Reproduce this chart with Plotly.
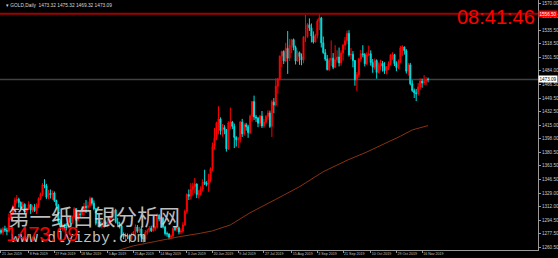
import datetime as dt
import plotly.graph_objects as go

# ---------------- data ----------------
dates = [
    "2019-01-21", "2019-01-22", "2019-01-23", "2019-01-24", "2019-01-25",
    "2019-01-28", "2019-01-29", "2019-01-30", "2019-01-31", "2019-02-01",
    "2019-02-04", "2019-02-05", "2019-02-06", "2019-02-07", "2019-02-08",
    "2019-02-11", "2019-02-12", "2019-02-13", "2019-02-14", "2019-02-15",
    "2019-02-18", "2019-02-19", "2019-02-20", "2019-02-21", "2019-02-22",
    "2019-02-25", "2019-02-26", "2019-02-27", "2019-02-28", "2019-03-01",
    "2019-03-04", "2019-03-05", "2019-03-06", "2019-03-07", "2019-03-08",
    "2019-03-11", "2019-03-12", "2019-03-13", "2019-03-14", "2019-03-15",
    "2019-03-18", "2019-03-19", "2019-03-20", "2019-03-21", "2019-03-22",
    "2019-03-25", "2019-03-26", "2019-03-27", "2019-03-28", "2019-03-29",
    "2019-04-01", "2019-04-02", "2019-04-03", "2019-04-04", "2019-04-05",
    "2019-04-08", "2019-04-09", "2019-04-10", "2019-04-11", "2019-04-12",
    "2019-04-15", "2019-04-16", "2019-04-17", "2019-04-18", "2019-04-22",
    "2019-04-23", "2019-04-24", "2019-04-25", "2019-04-26", "2019-04-29",
    "2019-04-30", "2019-05-01", "2019-05-02", "2019-05-03", "2019-05-06",
    "2019-05-07", "2019-05-08", "2019-05-09", "2019-05-10", "2019-05-13",
    "2019-05-14", "2019-05-15", "2019-05-16", "2019-05-17", "2019-05-20",
    "2019-05-21", "2019-05-22", "2019-05-23", "2019-05-24", "2019-05-27",
    "2019-05-28", "2019-05-29", "2019-05-30", "2019-05-31", "2019-06-03",
    "2019-06-04", "2019-06-05", "2019-06-06", "2019-06-07", "2019-06-10",
    "2019-06-11", "2019-06-12", "2019-06-13", "2019-06-14", "2019-06-17",
    "2019-06-18", "2019-06-19", "2019-06-20", "2019-06-21", "2019-06-24",
    "2019-06-25", "2019-06-26", "2019-06-27", "2019-06-28", "2019-07-01",
    "2019-07-02", "2019-07-03", "2019-07-04", "2019-07-05", "2019-07-08",
    "2019-07-09", "2019-07-10", "2019-07-11", "2019-07-12", "2019-07-15",
    "2019-07-16", "2019-07-17", "2019-07-18", "2019-07-19", "2019-07-22",
    "2019-07-23", "2019-07-24", "2019-07-25", "2019-07-26", "2019-07-29",
    "2019-07-30", "2019-07-31", "2019-08-01", "2019-08-02", "2019-08-05",
    "2019-08-06", "2019-08-07", "2019-08-08", "2019-08-09", "2019-08-12",
    "2019-08-13", "2019-08-14", "2019-08-15", "2019-08-16", "2019-08-19",
    "2019-08-20", "2019-08-21", "2019-08-22", "2019-08-23", "2019-08-26",
    "2019-08-27", "2019-08-28", "2019-08-29", "2019-08-30", "2019-09-02",
    "2019-09-03", "2019-09-04", "2019-09-05", "2019-09-06", "2019-09-09",
    "2019-09-10", "2019-09-11", "2019-09-12", "2019-09-13", "2019-09-16",
    "2019-09-17", "2019-09-18", "2019-09-19", "2019-09-20", "2019-09-23",
    "2019-09-24", "2019-09-25", "2019-09-26", "2019-09-27", "2019-09-30",
    "2019-10-01", "2019-10-02", "2019-10-03", "2019-10-04", "2019-10-07",
    "2019-10-08", "2019-10-09", "2019-10-10", "2019-10-11", "2019-10-14",
    "2019-10-15", "2019-10-16", "2019-10-17", "2019-10-18", "2019-10-21",
    "2019-10-22", "2019-10-23", "2019-10-24", "2019-10-25", "2019-10-28",
    "2019-10-29", "2019-10-30", "2019-10-31", "2019-11-01", "2019-11-04",
    "2019-11-05", "2019-11-06", "2019-11-07", "2019-11-08", "2019-11-11",
    "2019-11-12", "2019-11-13", "2019-11-14", "2019-11-15", "2019-11-18",
    "2019-11-19", "2019-11-20",
]

opens = [
    1281.5, 1279.0, 1283.5, 1282.0, 1280.5, 1297.5, 1302.5, 1311.5, 1319.5, 1321.0,
    1317.0, 1311.0, 1314.5, 1306.5, 1309.5, 1314.5, 1307.5, 1311.0, 1306.5, 1313.5,
    1322.0, 1327.5, 1339.0, 1338.0, 1323.5, 1328.5, 1327.0, 1329.0, 1319.5, 1313.0,
    1293.0, 1286.5, 1287.0, 1286.0, 1285.0, 1298.0, 1291.5, 1298.5, 1309.0, 1295.0,
    1302.5, 1301.5, 1306.5, 1312.0, 1310.5, 1313.0, 1322.0, 1316.0, 1309.0, 1290.5,
    1292.0, 1286.5, 1291.0, 1291.5, 1290.0, 1291.5, 1298.5, 1303.5, 1307.5, 1292.5,
    1290.0, 1287.5, 1275.5, 1273.5, 1275.5, 1274.5, 1271.0, 1276.0, 1279.5, 1286.0,
    1280.5, 1283.5, 1273.5, 1270.5, 1279.0, 1281.0, 1284.5, 1281.0, 1283.5, 1285.5,
    1301.0, 1296.0, 1297.5, 1286.0, 1277.5, 1277.0, 1273.0, 1274.5, 1284.0, 1283.0,
    1285.0, 1279.5, 1280.5, 1288.5, 1305.5, 1327.0, 1325.0, 1333.5, 1337.0, 1340.5,
    1327.0, 1327.5, 1334.0, 1342.5, 1341.5, 1340.0, 1346.0, 1360.0, 1388.0, 1399.0,
    1418.0, 1423.0, 1408.0, 1412.0, 1409.5, 1385.0, 1418.0, 1419.0, 1413.5, 1399.5,
    1396.5, 1397.5, 1419.0, 1404.0, 1415.5, 1413.0, 1405.5, 1426.5, 1445.0, 1425.5,
    1424.0, 1417.5, 1426.5, 1414.0, 1419.0, 1426.0, 1430.5, 1413.5, 1444.5, 1440.5,
    1464.5, 1474.0, 1502.5, 1508.5, 1496.5, 1512.5, 1500.0, 1516.5, 1523.5, 1513.5,
    1496.5, 1507.0, 1502.0, 1497.5, 1527.0, 1527.5, 1542.5, 1538.5, 1528.0, 1520.5,
    1529.0, 1547.0, 1551.0, 1519.5, 1507.0, 1499.0, 1485.5, 1497.0, 1500.0, 1488.5,
    1498.0, 1501.5, 1494.0, 1506.5, 1516.5, 1522.0, 1531.5, 1504.0, 1505.0, 1497.0,
    1472.5, 1479.0, 1499.0, 1505.5, 1504.5, 1493.0, 1504.5, 1505.5, 1494.5, 1488.5,
    1497.0, 1482.0, 1490.5, 1493.5, 1489.5, 1484.0, 1487.5, 1493.0, 1504.0, 1504.5,
    1493.0, 1488.0, 1495.5, 1513.0, 1514.0, 1509.5, 1483.5, 1491.5, 1467.5, 1459.0,
    1456.0, 1455.0, 1463.5, 1471.0, 1468.5, 1471.5, 1473.32,
]

highs = [
    1284.0, 1286.0, 1287.5, 1285.0, 1303.0, 1305.0, 1314.0, 1323.0, 1326.5, 1323.0,
    1318.5, 1318.0, 1316.0, 1310.5, 1318.5, 1315.0, 1313.5, 1315.0, 1316.0, 1323.5,
    1329.5, 1341.5, 1346.5, 1340.5, 1333.0, 1333.5, 1332.0, 1331.0, 1320.5, 1315.0,
    1295.5, 1289.5, 1290.0, 1291.0, 1300.0, 1299.0, 1300.5, 1311.0, 1310.0, 1305.0,
    1306.0, 1309.0, 1316.5, 1320.0, 1318.0, 1324.5, 1323.5, 1319.5, 1310.0, 1297.0,
    1295.0, 1294.0, 1295.5, 1294.0, 1296.0, 1300.0, 1307.0, 1310.5, 1309.0, 1297.5,
    1292.5, 1288.5, 1279.0, 1278.5, 1277.5, 1276.5, 1278.5, 1281.0, 1289.0, 1288.5,
    1286.0, 1287.0, 1276.5, 1282.0, 1283.5, 1287.0, 1287.5, 1288.0, 1287.0, 1303.0,
    1302.0, 1299.5, 1298.0, 1287.5, 1280.0, 1278.0, 1276.5, 1286.0, 1287.0, 1286.5,
    1286.5, 1284.0, 1292.0, 1308.0, 1328.5, 1333.5, 1341.5, 1342.0, 1348.0, 1341.0,
    1333.0, 1337.5, 1346.5, 1358.5, 1344.0, 1353.5, 1361.5, 1393.0, 1411.5, 1419.5,
    1439.0, 1425.0, 1416.5, 1415.0, 1410.0, 1420.0, 1437.5, 1420.5, 1417.0, 1401.0,
    1400.0, 1420.5, 1423.0, 1417.5, 1418.0, 1415.5, 1428.5, 1445.5, 1452.5, 1428.0,
    1425.5, 1428.0, 1433.0, 1423.0, 1428.0, 1434.0, 1433.5, 1447.0, 1449.5, 1474.5,
    1475.0, 1503.5, 1509.5, 1510.0, 1519.5, 1534.5, 1524.5, 1524.5, 1525.0, 1516.0,
    1509.5, 1508.5, 1506.0, 1528.0, 1555.0, 1544.5, 1550.5, 1544.0, 1534.0, 1531.0,
    1549.5, 1557.0, 1552.5, 1527.5, 1511.5, 1504.0, 1500.0, 1522.5, 1506.5, 1516.5,
    1510.0, 1513.5, 1510.0, 1518.0, 1527.0, 1535.0, 1535.5, 1513.0, 1509.0, 1497.5,
    1482.5, 1500.5, 1510.5, 1516.5, 1506.5, 1507.5, 1516.0, 1510.0, 1499.0, 1499.5,
    1498.5, 1494.5, 1498.0, 1496.5, 1495.0, 1490.0, 1496.0, 1505.0, 1507.5, 1505.5,
    1496.0, 1498.5, 1515.5, 1516.5, 1515.0, 1511.5, 1494.0, 1494.0, 1472.0, 1461.5,
    1461.0, 1468.5, 1474.5, 1474.0, 1478.5, 1476.0, 1475.32,
]

lows = [
    1276.5, 1276.0, 1279.5, 1275.5, 1279.0, 1294.5, 1301.0, 1306.5, 1316.0, 1310.5,
    1308.5, 1309.5, 1302.5, 1303.0, 1308.0, 1302.5, 1304.5, 1305.0, 1302.5, 1310.0,
    1320.0, 1325.0, 1335.0, 1321.5, 1321.0, 1322.0, 1320.5, 1317.5, 1311.0, 1290.0,
    1280.5, 1281.0, 1282.5, 1281.5, 1284.0, 1288.5, 1289.5, 1296.5, 1293.0, 1293.5,
    1298.5, 1299.0, 1300.5, 1303.5, 1307.0, 1311.0, 1313.0, 1307.0, 1288.0, 1288.0,
    1285.0, 1284.0, 1286.5, 1286.5, 1285.5, 1289.0, 1296.0, 1300.0, 1290.5, 1287.5,
    1284.0, 1272.5, 1270.5, 1269.0, 1270.5, 1266.0, 1269.5, 1274.5, 1275.5, 1278.5,
    1278.5, 1271.5, 1266.5, 1267.0, 1276.0, 1279.0, 1279.5, 1280.0, 1281.0, 1284.0,
    1293.0, 1290.0, 1284.0, 1275.0, 1273.5, 1270.0, 1270.0, 1271.5, 1280.5, 1280.0,
    1276.5, 1276.5, 1278.5, 1287.5, 1302.5, 1320.0, 1320.5, 1326.0, 1329.0, 1322.5,
    1322.0, 1325.5, 1331.0, 1339.0, 1337.5, 1330.5, 1342.5, 1357.0, 1384.5, 1396.0,
    1403.5, 1403.0, 1400.5, 1403.5, 1381.5, 1383.5, 1410.5, 1410.0, 1386.0, 1388.0,
    1386.0, 1393.0, 1400.0, 1401.5, 1408.0, 1399.0, 1403.5, 1420.0, 1421.5, 1419.0,
    1412.5, 1413.5, 1411.5, 1411.5, 1417.0, 1422.0, 1411.5, 1400.0, 1430.0, 1438.5,
    1455.0, 1471.5, 1488.5, 1492.5, 1495.0, 1480.0, 1496.5, 1506.5, 1510.0, 1492.0,
    1495.5, 1491.5, 1491.0, 1493.5, 1520.5, 1526.0, 1534.5, 1520.0, 1518.5, 1520.0,
    1525.0, 1535.5, 1513.5, 1505.5, 1496.5, 1484.5, 1483.5, 1490.0, 1486.0, 1487.5,
    1494.5, 1489.5, 1490.5, 1497.0, 1510.5, 1517.5, 1502.0, 1498.5, 1488.5, 1465.0,
    1458.5, 1475.0, 1495.0, 1501.0, 1489.5, 1491.5, 1502.5, 1490.5, 1481.5, 1485.5,
    1474.0, 1480.5, 1484.5, 1483.0, 1480.0, 1479.5, 1485.0, 1491.0, 1498.0, 1490.0,
    1483.5, 1486.0, 1494.0, 1503.0, 1504.5, 1480.5, 1478.0, 1465.5, 1457.0, 1449.5,
    1445.5, 1452.5, 1460.0, 1462.5, 1465.5, 1466.0, 1469.32,
]

closes = [
    1279.0, 1283.5, 1282.0, 1280.5, 1297.5, 1302.5, 1311.5, 1319.5, 1321.0, 1317.0,
    1311.0, 1314.5, 1306.5, 1309.5, 1314.5, 1307.5, 1311.0, 1306.5, 1313.5, 1322.0,
    1327.5, 1339.0, 1338.0, 1323.5, 1328.5, 1327.0, 1329.0, 1319.5, 1313.0, 1293.0,
    1286.5, 1287.0, 1286.0, 1285.0, 1298.0, 1291.5, 1298.5, 1309.0, 1295.0, 1302.5,
    1301.5, 1306.5, 1312.0, 1310.5, 1313.0, 1322.0, 1316.0, 1309.0, 1290.5, 1292.0,
    1286.5, 1291.0, 1291.5, 1290.0, 1291.5, 1298.5, 1303.5, 1307.5, 1292.5, 1290.0,
    1287.5, 1275.5, 1273.5, 1275.5, 1274.5, 1271.0, 1276.0, 1279.5, 1286.0, 1280.5,
    1283.5, 1273.5, 1270.5, 1279.0, 1281.0, 1284.5, 1281.0, 1283.5, 1285.5, 1301.0,
    1296.0, 1297.5, 1286.0, 1277.5, 1277.0, 1273.0, 1274.5, 1284.0, 1283.0, 1285.0,
    1279.5, 1280.5, 1288.5, 1305.5, 1327.0, 1325.0, 1333.5, 1337.0, 1340.5, 1327.0,
    1327.5, 1334.0, 1342.5, 1341.5, 1340.0, 1346.0, 1360.0, 1388.0, 1399.0, 1418.0,
    1423.0, 1408.0, 1412.0, 1409.5, 1385.0, 1418.0, 1419.0, 1413.5, 1399.5, 1396.5,
    1397.5, 1419.0, 1404.0, 1415.5, 1413.0, 1405.5, 1426.5, 1445.0, 1425.5, 1424.0,
    1417.5, 1426.5, 1414.0, 1419.0, 1426.0, 1430.5, 1413.5, 1444.5, 1440.5, 1464.5,
    1474.0, 1502.5, 1508.5, 1496.5, 1512.5, 1500.0, 1516.5, 1523.5, 1513.5, 1496.5,
    1507.0, 1502.0, 1497.5, 1527.0, 1527.5, 1542.5, 1538.5, 1528.0, 1520.5, 1529.0,
    1547.0, 1551.0, 1519.5, 1507.0, 1499.0, 1485.5, 1497.0, 1500.0, 1488.5, 1498.0,
    1501.5, 1494.0, 1506.5, 1516.5, 1522.0, 1531.5, 1504.0, 1505.0, 1497.0, 1472.5,
    1479.0, 1499.0, 1505.5, 1504.5, 1493.0, 1504.5, 1505.5, 1494.5, 1488.5, 1497.0,
    1482.0, 1490.5, 1493.5, 1489.5, 1484.0, 1487.5, 1493.0, 1504.0, 1504.5, 1493.0,
    1488.0, 1495.5, 1513.0, 1514.0, 1509.5, 1483.5, 1491.5, 1467.5, 1459.0, 1456.0,
    1455.0, 1463.5, 1471.0, 1468.5, 1471.5, 1472.0, 1473.09,
]

# moving average line
ma_dates = ["2019-04-12", "2019-04-25", "2019-05-10", "2019-05-28", "2019-06-12",
            "2019-06-20", "2019-07-03", "2019-07-17", "2019-08-05", "2019-08-21",
            "2019-09-06", "2019-09-24", "2019-10-08", "2019-10-18", "2019-10-31",
            "2019-11-08", "2019-11-20"]
ma_values = [1256.0, 1262.0, 1267.5, 1273.5, 1278.0,
             1281.0, 1288.5, 1304.0, 1321.0, 1337.0,
             1356.0, 1370.5, 1381.0, 1390.0, 1401.0,
             1409.0, 1414.5]

x_tick_labels = ["21 Jan 2019", "8 Feb 2019", "27 Feb 2019", "18 Mar 2019",
                 "5 Apr 2019", "25 Apr 2019", "14 May 2019", "3 Jun 2019",
                 "20 Jun 2019", "9 Jul 2019", "27 Jul 2019", "15 Aug 2019",
                 "3 Sep 2019", "21 Sep 2019", "10 Oct 2019", "29 Oct 2019",
                 "16 Nov 2019"]

y_tick_values = [1260.5, 1277.5, 1294.5, 1312.0, 1329.0, 1346.5, 1363.5, 1380.5,
                 1398.0, 1415.0, 1432.5, 1449.5, 1466.5, 1484.0, 1501.5, 1518.5,
                 1535.5, 1552.5, 1570.0]

bid_price = 1473.09
alert_price = 1556.5
header = "GOLD,Daily  1473.32 1475.32 1469.32 1473.09"
clock_text = "08:41:46"
watermark_cn = "第一纸白银分析网"
watermark_url = "www.dlyizby.com"

# ---------------- build ----------------
date_objs = [dt.date.fromisoformat(d) for d in dates]
idx = list(range(len(dates)))


def bar_index(d):
    """index of last bar dated on or before d"""
    best = 0
    for i, bd in enumerate(date_objs):
        if bd <= d:
            best = i
    return best


tick_pos = [bar_index(dt.datetime.strptime(t, "%d %b %Y").date()) for t in x_tick_labels]
ma_x = [bar_index(dt.date.fromisoformat(d)) for d in ma_dates]

fig = go.Figure()
fig.add_trace(go.Candlestick(
    x=idx, open=opens, high=highs, low=lows, close=closes,
    increasing=dict(line=dict(color="#ff0000", width=1), fillcolor="#ff0000"),
    decreasing=dict(line=dict(color="#00e0e0", width=1), fillcolor="#00e0e0"),
    whiskerwidth=0, showlegend=False, hoverinfo="skip",
))
fig.add_trace(go.Scatter(
    x=ma_x, y=ma_values, mode="lines",
    line=dict(color="#8a3210", width=1), showlegend=False, hoverinfo="skip",
))

# horizontal lines
fig.add_hline(y=bid_price, line=dict(color="#3c4248", width=1.5), layer="below")
fig.add_hline(y=alert_price, line=dict(color="#a00000", width=2))

small = dict(family="Liberation Sans, Arial, sans-serif", size=4.6, color="#c8c8c8")
xsmall = dict(family="Liberation Sans, Arial, sans-serif", size=3.6, color="#c0c0c0")

fig.update_layout(
    width=558, height=258,
    margin=dict(l=0, r=20, t=0, b=8),
    paper_bgcolor="#000000", plot_bgcolor="#000000",
    font=small,
    xaxis=dict(
        range=[-0.5, 271.6], rangeslider=dict(visible=False),
        showgrid=False, zeroline=False, automargin=False,
        showline=True, linecolor="#9a9a9a", linewidth=1,
        tickmode="array", tickvals=tick_pos, ticktext=x_tick_labels,
        ticks="outside", ticklen=2, tickcolor="#9a9a9a", tickangle=0,
        ticklabelposition="outside right",
        tickfont=xsmall,
    ),
    yaxis=dict(
        range=[1256.7, 1573.8], side="right",
        showgrid=False, zeroline=False, automargin=False,
        showline=True, linecolor="#9a9a9a", linewidth=1,
        tickmode="array", tickvals=y_tick_values,
        ticktext=[f"{v:.2f}" for v in y_tick_values],
        ticks="outside", ticklen=2, tickcolor="#9a9a9a",
        tickfont=small,
    ),
)

annotations = [
    dict(text="▾ " + header, xref="paper", yref="paper", x=0.008, y=0.995,
         xanchor="left", yanchor="top", showarrow=False,
         font=dict(family="Liberation Sans, Arial, sans-serif", size=4.8, color="#d8d8d8")),
    dict(text=clock_text, xref="paper", yref="paper", x=0.998, y=0.93,
         xanchor="right", yanchor="middle", showarrow=False,
         font=dict(family="Liberation Sans, Arial, sans-serif", size=20, color="#ff0000")),
    dict(text=f"{alert_price:.2f}", xref="paper", yref="y", x=1.0, y=alert_price,
         xanchor="left", yanchor="middle", showarrow=False, bgcolor="#ff0000",
         font=dict(family="Liberation Sans, Arial, sans-serif", size=4.6, color="#ffffff"),
         borderpad=0.5),
    dict(text=f"{bid_price:.2f}", xref="paper", yref="y", x=1.0, y=bid_price,
         xanchor="left", yanchor="middle", showarrow=False, bgcolor="#ffffff",
         font=dict(family="Liberation Sans, Arial, sans-serif", size=4.6, color="#000000"),
         borderpad=0.5),
    dict(text=watermark_cn, xref="paper", yref="paper", x=0.012, y=0.14,
         xanchor="left", yanchor="middle", showarrow=False,
         font=dict(family="Noto Sans CJK SC", size=21.5, color="rgba(225,225,225,0.85)")),
    dict(text=watermark_url, xref="paper", yref="paper", x=0.017, y=0.045,
         xanchor="left", yanchor="middle", showarrow=False,
         font=dict(family="Liberation Mono, Courier New, monospace", size=15,
                   color="rgba(215,215,215,0.9)")),
    dict(text=f"{bid_price:.2f}", xref="paper", yref="paper", x=0.008, y=0.065,
         xanchor="left", yanchor="middle", showarrow=False,
         font=dict(family="Liberation Sans, Arial, sans-serif", size=20, color="#ff0000")),
]
fig.update_layout(annotations=annotations)

fig.write_html("out.html")
